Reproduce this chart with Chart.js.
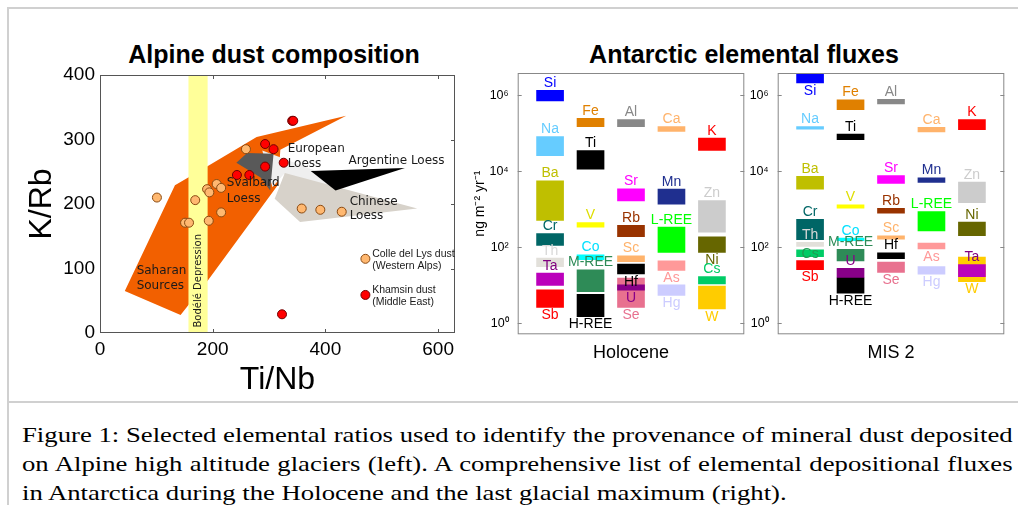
<!DOCTYPE html>
<html lang="en">
<head>
<meta charset="utf-8">
<title>Alpine dust composition / Antarctic elemental fluxes</title>
<script src="https://cdn.jsdelivr.net/npm/chart.js@4.4.1/dist/chart.umd.min.js"></script>
<style>
  html, body { margin: 0; padding: 0; background: #fff; }
  body { width: 1018px; height: 505px; position: relative; overflow: hidden; font-family: "Liberation Sans", Arial, sans-serif; }
  .rule { position: absolute; background: #d0d0d0; }
  .rule-left { left: 7px; top: 7px; width: 2px; height: 498px; }
  .rule-top { left: 7px; top: 7px; right: 0; height: 2px; }
  .rule-mid { left: 7px; top: 401px; right: 0; height: 2px; }
  canvas { position: absolute; }
  .title { position: absolute; top: 42px; font-size: 25px; line-height: 25px; font-weight: bold; white-space: nowrap; transform: translateX(-50%); color: #000; }
  /* the caption in the figure is stretched sideways */
  .caption { position: absolute; left: 22px; width: 816px; font-family: "Liberation Serif", "Times New Roman", serif; font-size: 22px; line-height: 29px; white-space: nowrap; color: #000; transform: scaleX(1.214); transform-origin: 0 0; }
  .caption.full { text-align: justify; text-align-last: justify; }
</style>
</head>
<body>
<div class="rule rule-left"></div>
<div class="rule rule-top"></div>
<div class="rule rule-mid"></div>

<div class="title" style="left:274px">Alpine dust composition</div>
<div class="title" style="left:744px">Antarctic elemental fluxes</div>

<canvas id="alpine" width="470" height="400" style="left:0;top:0"></canvas>
<canvas id="holocene" width="292" height="400" style="left:460px;top:0"></canvas>
<canvas id="mis2" width="274" height="400" style="left:744px;top:0"></canvas>

<div class="caption full" style="top:420px">Figure 1: Selected elemental ratios used to identify the provenance of mineral dust deposited</div>
<div class="caption full" style="top:449px">on Alpine high altitude glaciers (left). A comprehensive list of elemental depositional fluxes</div>
<div class="caption" style="top:478px">in Antarctica during the Holocene and the last glacial maximum (right).</div>

<script>
/* ---------- Alpine dust composition (left) ---------- */
const colleTiNb = [101, 151, 158, 169, 190, 194, 207, 215, 193, 215, 259, 358, 391, 429];
const colleKRb  = [210, 171, 171, 206, 223, 218, 231, 225, 174, 187, 285, 193, 191, 188];
const khamsinTiNb = [341, 343, 293, 308, 326, 293, 243, 265, 323];
const khamsinKRb  = [329, 329, 293, 285, 264, 258, 245, 245, 29];

// source areas, outlines
const saharanTiNb = [44, 133, 190, 278, 437, 320, 316, 192, 143];
const saharanKRb  = [65, 229, 258, 304, 337, 284, 230, 82, 28];
const svalbardTiNb = [242, 261, 308, 302, 285];
const svalbardKRb  = [264, 279, 278, 221, 241];
const europeanTiNb = [288, 378, 418, 326, 306];
const europeanKRb  = [283, 253, 220, 246, 226];
const argentineTiNb = [374, 541, 418];
const argentineKRb  = [251, 256, 221];
const chineseTiNb = [328, 563, 355, 310];
const chineseKRb  = [248, 193, 172, 208];
const bodeleTiNb = [157, 191];
const bodeleKRb  = [0, 400];

const alpineXTicks = [0, 200, 400, 600];
const alpineYTicks = [0, 100, 200, 300, 400];

/* ---------- Antarctic elemental fluxes (right), ng m-2 yr-1 ---------- */
const holoceneElements = ['Si', 'Na', 'Ba', 'Cr', 'Th', 'Ta', 'Sb',
  'Fe', 'Ti', 'V', 'Co', 'M-REE', 'H-REE',
  'Al', 'Sr', 'Rb', 'Sc', 'Hf', 'Se', 'U',
  'Ca', 'Mn', 'L-REE', 'As', 'Hg',
  'K', 'Zn', 'Ni', 'Cs', 'W'];
const holoceneColumn = [1, 1, 1, 1, 1, 1, 1, 2, 2, 2, 2, 2, 2, 3, 3, 3, 3, 3, 3, 3, 4, 4, 4, 4, 4, 5, 5, 5, 5, 5];
const holoceneLow  = [7.2e5, 2.6e4, 510, 112, 31, 10, 2.6,
  1.5e5, 1.15e4, 340, 47, 6.8, 1.5,
  1.5e5, 1670, 190, 42, 20, 2.6, 7.4,
  1.13e5, 1370, 73, 24.5, 5.4,
  3.55e4, 250, 73, 10.9, 2.4];
const holoceneHigh = [1.36e6, 8.3e4, 5600, 230, 52, 21, 7.6,
  2.5e5, 3.5e4, 450, 63, 25.5, 5.8,
  2.3e5, 3470, 380, 60, 36, 15.4, 10.3,
  1.52e5, 3400, 340, 44, 10.3,
  7.5e4, 1710, 190, 17, 9.6];

const mis2Elements = ['Si', 'Na', 'Ba', 'Cr', 'Th', 'Cs', 'Sb',
  'Fe', 'Ti', 'V', 'Co', 'M-REE', 'U', 'H-REE',
  'Al', 'Sr', 'Rb', 'Sc', 'Hf', 'Se',
  'Ca', 'Mn', 'L-REE', 'As', 'Hg',
  'K', 'Zn', 'Ni', 'W', 'Ta'];
const mis2Column = [1, 1, 1, 1, 1, 1, 1, 2, 2, 2, 2, 2, 2, 2, 3, 3, 3, 3, 3, 3, 4, 4, 4, 4, 4, 5, 5, 5, 5, 5];
const mis2Low  = [2.14e6, 1.3e5, 3400, 158, 105, 57, 26,
  4.2e5, 6.8e4, 1070, 150, 44, 16, 6.2,
  6e5, 4800, 790, 163, 50, 22,
  1.1e5, 5100, 270, 91, 19.5,
  1.26e5, 1510, 204, 12.5, 17];
const mis2High = [3.6e6, 1.52e5, 7400, 550, 135, 86, 45,
  7.7e5, 9.6e4, 1320, 175, 89, 28, 15.4,
  7.9e5, 7800, 1070, 200, 72, 41,
  1.44e5, 6800, 870, 129, 31,
  2.3e5, 5200, 460, 55, 35];

const fluxTicks = [1, 1e2, 1e4, 1e6];
const fluxTickLabels = ['10\u2070', '10\u00b2', '10\u2074', '10\u2076'];

// where each element name sits: a = above bar, b = below, m = on it
const holoceneLabelSide = ['a', 'a', 'a', 'a', 'a', 'a', 'b', 'a', 'a', 'a', 'a', 'a', 'b',
  'a', 'a', 'a', 'a', 'b', 'b', 'b', 'a', 'a', 'a', 'b', 'b', 'a', 'a', 'b', 'a', 'b'];
const mis2LabelSide = ['b', 'a', 'a', 'a', 'a', 'm', 'b', 'a', 'a', 'a', 'a', 'a', 'a', 'b',
  'a', 'a', 'a', 'a', 'a', 'b', 'a', 'a', 'a', 'b', 'b', 'a', 'a', 'a', 'b', 'a'];

const elementColours = {
  Si: '#0000ff', Na: '#66ccff', Ba: '#bfbf00', Cr: '#006666', Th: '#e2e0da', Ta: '#bb00bb', Sb: '#ff0000',
  Fe: '#e08000', Ti: '#000000', V: '#ffff00', Co: '#00ffff', 'M-REE': '#2e8b57', 'H-REE': '#000000',
  Al: '#888888', Sr: '#ff00ff', Rb: '#993300', Sc: '#ffb36b', Hf: '#000000', Se: '#e8718f', U: '#880088',
  Ca: '#ffb36b', Mn: '#1f2f8f', 'L-REE': '#00ff00', As: '#ff9999', Hg: '#ccccff',
  K: '#ff0000', Zn: '#cccccc', Ni: '#666600', Cs: '#00cc66', W: '#ffcc00'
};
const labelColours = Object.assign({}, elementColours, { Th: '#d8d8d8', Ta: '#800080', V: '#dede00', Co: '#00e0ff' });

Chart.defaults.font.family = '"Liberation Sans", Arial, sans-serif';
Chart.defaults.color = '#000';

/* ---------- plugins ---------- */
const framePlugin = {
  id: 'frame',
  afterDatasetsDraw(chart, args, opts) {
    const { ctx, chartArea: a } = chart;
    const len = 4;
    ctx.save();
    ctx.strokeStyle = opts.color;
    ctx.lineWidth = 1;
    ctx.strokeRect(a.left + 0.5, a.top + 0.5, a.right - a.left - 1, a.bottom - a.top - 1);
    ctx.beginPath();
    if (opts.xTicks) {
      chart.scales.x.ticks.forEach(t => {
        const px = Math.round(chart.scales.x.getPixelForValue(t.value)) + 0.5;
        if (px <= a.left + 2 || px >= a.right - 2) return;
        ctx.moveTo(px, a.top); ctx.lineTo(px, a.top + len);
        ctx.moveTo(px, a.bottom); ctx.lineTo(px, a.bottom - len);
      });
    }
    chart.scales.y.ticks.forEach(t => {
      const py = Math.round(chart.scales.y.getPixelForValue(t.value)) + 0.5;
      if (py <= a.top + 2 || py >= a.bottom - 2) return;
      if (opts.yLeft) { ctx.moveTo(a.left, py); ctx.lineTo(a.left + len, py); }
      ctx.moveTo(a.right, py); ctx.lineTo(a.right - len, py);
    });
    ctx.stroke();
    ctx.restore();
  }
};

const alpineNotes = [
  { text: 'European', x: 333, y: 285 },
  { text: 'Loess', x: 333, y: 262 },
  { text: 'Argentine Loess', x: 441, y: 267 },
  { text: 'Svalbard', x: 225, y: 232 },
  { text: 'Loess', x: 225, y: 208 },
  { text: 'Chinese', x: 443, y: 204 },
  { text: 'Loess', x: 443, y: 181 },
  { text: 'Saharan', x: 65, y: 97 },
  { text: 'Sources', x: 65, y: 73 }
];

const notesPlugin = {
  id: 'notes',
  afterDatasetsDraw(chart) {
    const { ctx, scales: { x, y } } = chart;
    ctx.save();
    ctx.fillStyle = '#1a1a1a';
    ctx.textBaseline = 'middle';
    ctx.font = '12px "DejaVu Sans", sans-serif';
    alpineNotes.forEach(n => ctx.fillText(n.text, x.getPixelForValue(n.x), y.getPixelForValue(n.y)));

    ctx.save();
    ctx.translate(x.getPixelForValue(175), y.getPixelForValue(81));
    ctx.rotate(-Math.PI / 2);
    ctx.textAlign = 'center';
    ctx.font = '10px "DejaVu Sans", sans-serif';
    ctx.fillText('Bodélé Depression', 0, 0);
    ctx.restore();

    // legend
    const keys = [
      { y: 115, fill: '#ffb870', edge: '#8a4a12', lines: ['Colle del Lys dust', '(Western Alps)'] },
      { y: 59, fill: '#ff0000', edge: '#700000', lines: ['Khamsin dust', '(Middle East)'] }
    ];
    ctx.font = '10.5px "Liberation Sans", Arial, sans-serif';
    keys.forEach(k => {
      const py = y.getPixelForValue(k.y);
      ctx.beginPath();
      ctx.arc(x.getPixelForValue(471), py, 4.5, 0, Math.PI * 2);
      ctx.fillStyle = k.fill; ctx.fill();
      ctx.strokeStyle = k.edge; ctx.lineWidth = 1; ctx.stroke();
      ctx.fillStyle = '#1a1a1a';
      ctx.fillText(k.lines[0], x.getPixelForValue(483), py - 5);
      ctx.fillText(k.lines[1], x.getPixelForValue(483), py + 7);
    });
    ctx.restore();
  }
};

const barLabelPlugin = {
  id: 'barLabels',
  afterDatasetsDraw(chart) {
    const { ctx } = chart;
    const ds = chart.data.datasets[0];
    const meta = chart.getDatasetMeta(0);
    ctx.save();
    ctx.font = '14px "Liberation Sans", Arial, sans-serif';
    ctx.textAlign = 'center';
    meta.data.forEach((bar, i) => {
      const name = ds.names[i];
      const top = Math.min(bar.y, bar.base);
      const bottom = Math.max(bar.y, bar.base);
      ctx.fillStyle = labelColours[name];
      if (ds.sides[i] === 'b') {
        ctx.textBaseline = 'top';
        ctx.fillText(name, bar.x, bottom + 1);
      } else if (ds.sides[i] === 'm') {
        // name printed on its own bar, a shade darker
        ctx.fillStyle = '#1e9a52';
        ctx.textBaseline = 'middle';
        ctx.fillText(name, bar.x, (top + bottom) / 2 + 1);
      } else {
        ctx.textBaseline = 'alphabetic';
        ctx.fillText(name, bar.x, top - 3.5);
      }
    });
    ctx.restore();
  }
};

/* ---------- left chart ---------- */
function polygon(xs, ys, colour, order) {
  return {
    type: 'line',
    data: xs.map((x, i) => ({ x, y: ys[i] })),
    showLine: true,
    fill: 'shape',
    backgroundColor: colour,
    borderWidth: 0,
    pointRadius: 0,
    tension: 0,
    order
  };
}

function points(xs, ys, fill, edge, order) {
  return {
    type: 'scatter',
    data: xs.map((x, i) => ({ x, y: ys[i] })),
    backgroundColor: fill,
    borderColor: edge,
    borderWidth: 1,
    pointRadius: 4.5,
    order
  };
}

const bodeleCornersX = [bodeleTiNb[0], bodeleTiNb[1], bodeleTiNb[1], bodeleTiNb[0]];
const bodeleCornersY = [bodeleKRb[0], bodeleKRb[0], bodeleKRb[1], bodeleKRb[1]];

new Chart(document.getElementById('alpine'), {
  type: 'scatter',
  data: {
    datasets: [
      points(khamsinTiNb, khamsinKRb, '#ff0000', '#700000', 0),
      points(colleTiNb, colleKRb, '#ffb870', '#8a4a12', 1),
      polygon(argentineTiNb, argentineKRb, '#000000', 2),
      polygon(svalbardTiNb, svalbardKRb, '#595959', 3),
      polygon(chineseTiNb, chineseKRb, '#d7d2ca', 4),
      polygon(europeanTiNb, europeanKRb, '#efefef', 5),
      polygon(bodeleCornersX, bodeleCornersY, '#ffff99', 6),
      polygon(saharanTiNb, saharanKRb, '#f26000', 7)
    ]
  },
  options: {
    responsive: false,
    animation: false,
    layout: { padding: { top: 75, right: 15, left: 0, bottom: 0 } },
    plugins: {
      legend: { display: false },
      tooltip: { enabled: false },
      frame: { color: '#555', xTicks: true, yLeft: false }
    },
    scales: {
      x: {
        type: 'linear', min: 0, max: 630,
        afterBuildTicks: s => { s.ticks = alpineXTicks.map(v => ({ value: v })); },
        afterFit: s => { s.height = 67; },
        grid: { display: false, drawTicks: false },
        border: { display: false },
        ticks: { font: { size: 19 }, padding: 5, autoSkip: false, maxRotation: 0 },
        title: { display: true, text: 'Ti/Nb', font: { size: 32 }, padding: { top: 0, bottom: 1 } }
      },
      y: {
        type: 'linear', min: 0, max: 400,
        afterBuildTicks: s => { s.ticks = alpineYTicks.map(v => ({ value: v })); },
        afterFit: s => { s.width = 100; },
        grid: { display: false, drawTicks: false },
        border: { display: false },
        ticks: { font: { size: 19 }, padding: 5 },
        title: { display: true, text: 'K/Rb', font: { size: 32 }, padding: { top: 23, bottom: 0 } }
      }
    }
  },
  plugins: [framePlugin, notesPlugin]
});

/* ---------- right charts ---------- */
function fluxChart(id, names, columns, low, high, sides, xTitle, yAxisWidth, padRight, withTitle) {
  return new Chart(document.getElementById(id), {
    type: 'bar',
    data: {
      datasets: [{
        data: columns.map((c, i) => ({ x: c, y: [low[i], high[i]] })),
        names,
        sides,
        backgroundColor: names.map(n => elementColours[n]),
        borderWidth: 0,
        barThickness: 27,
        grouped: false
      }]
    },
    options: {
      responsive: false,
      animation: false,
      layout: { padding: { top: 73, right: padRight, left: 0, bottom: 0 } },
      plugins: {
        legend: { display: false },
        tooltip: { enabled: false },
        frame: { color: '#888', xTicks: false, yLeft: true }
      },
      scales: {
        x: {
          type: 'linear', min: 0.2, max: 5.8, offset: false,
          afterFit: s => { s.height = 65.7; },
          grid: { display: false, drawTicks: false },
          border: { display: false },
          ticks: { display: false },
          title: { display: true, text: xTitle, font: { size: 18 }, padding: { top: 0, bottom: 36 } }
        },
        y: {
          type: 'logarithmic', min: 0.513, max: 3.89e6,
          afterBuildTicks: s => { s.ticks = fluxTicks.map(v => ({ value: v })); },
          afterFit: s => { s.width = yAxisWidth; },
          grid: { display: false, drawTicks: false },
          border: { display: false },
          ticks: { font: { size: 12.5 }, padding: 9, callback: v => fluxTickLabels[fluxTicks.indexOf(v)] },
          title: { display: withTitle, text: 'ng m\u207b\u00b2 yr\u207b\u00b9', font: { size: 14 }, padding: { top: 12, bottom: 0 } }
        }
      }
    },
    plugins: [framePlugin, barLabelPlugin]
  });
}

fluxChart('holocene', holoceneElements, holoceneColumn, holoceneLow, holoceneHigh, holoceneLabelSide, 'Holocene', 57.7, 7.7, true);
fluxChart('mis2', mis2Elements, mis2Column, mis2Low, mis2High, mis2LabelSide, 'MIS 2', 33.7, 13.7, false);
</script>
</body>
</html>
